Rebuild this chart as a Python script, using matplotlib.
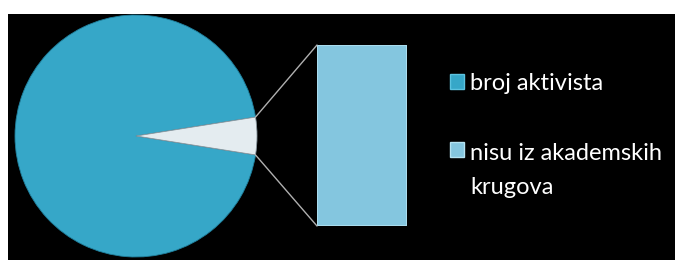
import matplotlib.pyplot as plt
from matplotlib.patches import ConnectionPatch, Rectangle
from matplotlib.legend_handler import HandlerPatch
import numpy as np

# pie data: main slice and the small "other" slice that is expanded in the bar
labels = ["broj aktivista", "nisu iz akademskih\nkrugova"]
pie_values = [95, 5]
bar_values = [5]

teal = "#36a7c8"
slice_white = "#e4ecf0"
bar_blue = "#84c6df"

W, H = 675, 260
fig = plt.figure(figsize=(W / 100, H / 100), dpi=100, facecolor="white")

# black panel (white strip left and top, as in the screenshot)
ax = fig.add_axes([8 / W, 0, (W - 8) / W, (H - 14) / H])
ax.set_facecolor("black")

# pie, small slice centred on the right-hand side
share = pie_values[1] / sum(pie_values)
wedges, _ = ax.pie(
    pie_values,
    colors=[teal, slice_white],
    startangle=360 * share / 2,
    center=(136, H - 136),
    radius=121,
    wedgeprops=dict(edgecolor="#1f7f9c", linewidth=0.6),
    frame=True,
)
wedges[1].set_edgecolor("#8a98a0")
ax.set_xlim(8, W)
ax.set_ylim(0, H - 14)
ax.set_aspect("equal")
ax.set_xticks([])
ax.set_yticks([])
for s in ax.spines.values():
    s.set_visible(False)

# bar for the "other" slice
bax = fig.add_axes([317 / W, (H - 226) / H, 90 / W, 181 / H])
bax.set_facecolor("none")
bax.bar([0], bar_values, width=1.0, color=bar_blue, edgecolor="#a9dcee", linewidth=1.5)
bax.set_xlim(-0.5, 0.5)
bax.set_ylim(0, sum(bar_values))
bax.axis("off")

# connector lines from slice edges to bar corners
w = wedges[1]
cx, cy = w.center
for ang, yb in [(w.theta1, 0), (w.theta2, sum(bar_values))]:
    px = cx + w.r * np.cos(np.radians(ang))
    py = cy + w.r * np.sin(np.radians(ang))
    con = ConnectionPatch(
        xyA=(px, py), coordsA=ax.transData,
        xyB=(-0.5, yb), coordsB=bax.transData,
        color="#b0b0b0", linewidth=1.0,
    )
    fig.add_artist(con)


# legend square sits on the first line of a two-line label
def square(legend, orig_handle, xdescent, ydescent, width, height, fontsize):
    lines = orig_handle.get_label().count("\n")
    dy = lines * fontsize * 0.9
    return Rectangle((-xdescent, -ydescent + dy), width, height)


handles = [
    Rectangle((0, 0), 1, 1, facecolor=teal, edgecolor="#5cc3e0", label=labels[0]),
    Rectangle((0, 0), 1, 1, facecolor=bar_blue, edgecolor="#b5e3f2", label=labels[1]),
]
leg = fig.legend(
    handles,
    labels,
    loc="upper left",
    bbox_to_anchor=(450 / W, 1 - 73 / H),
    frameon=False,
    prop=dict(family="Lato", size=17),
    labelcolor="white",
    handlelength=0.6,
    handleheight=0.6,
    handletextpad=0.25,
    labelspacing=2.07,
    borderpad=0,
    borderaxespad=0,
    handler_map={Rectangle: HandlerPatch(patch_func=square)},
)
for t in leg.get_texts():
    t.set_linespacing(1.8)

fig.savefig("out.png", dpi=100, facecolor="white")
